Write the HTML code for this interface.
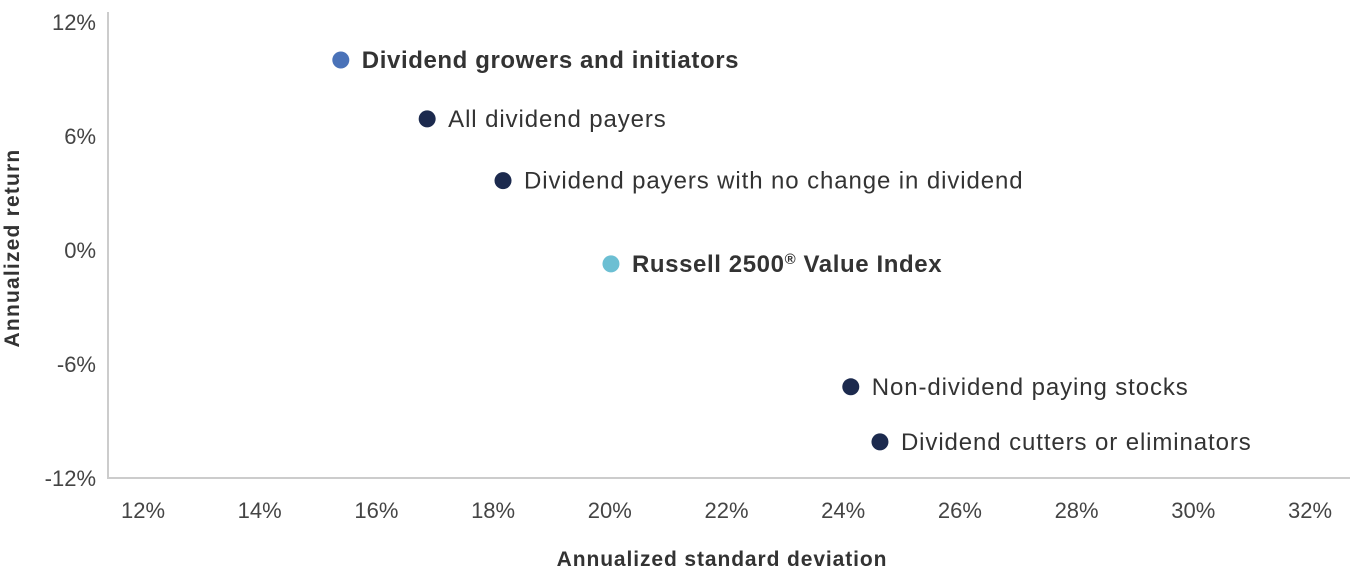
<!DOCTYPE html>
<html><head><meta charset="utf-8"><style>
body{margin:0;background:#fff;font-family:"Liberation Sans",sans-serif;}
svg text{font-family:"Liberation Sans",sans-serif;}
</style></head><body>
<svg id="chart" width="1366" height="570" xmlns="http://www.w3.org/2000/svg">
<line x1="108" y1="12" x2="108" y2="478" stroke="#ccc" stroke-width="2"/>
<line x1="107" y1="478" x2="1350" y2="478" stroke="#ccc" stroke-width="2"/>
<g id="yticks"></g><g id="xticks"></g><g id="points"></g>
<text x="722" y="566" text-anchor="middle" font-size="21" font-weight="bold" letter-spacing="0.9" fill="#333">Annualized standard deviation</text>
<text transform="translate(19,248) rotate(-90)" text-anchor="middle" font-size="21" font-weight="bold" letter-spacing="1.2" fill="#333">Annualized return</text>
</svg>
<script>
const yTicks=[12,6,0,-6,-12];
const xTicks=[12,14,16,18,20,22,24,26,28,30,32];
const labels=["Dividend growers and initiators","All dividend payers","Dividend payers with no change in dividend","Russell 2500® Value Index","Non-dividend paying stocks","Dividend cutters or eliminators"];
const stdDev=[15.39,16.87,18.17,20.02,24.13,24.63];
const returns=[10.0,6.9,3.65,-0.73,-7.2,-10.1];
const colors=["#4a72b8","#1c2a4e","#1c2a4e","#6cbfd3","#1c2a4e","#1c2a4e"];
const bold=[true,false,false,true,false,false];
const ns="http://www.w3.org/2000/svg";
const X=v=>143+(v-12)*58.35;
const Y=v=>250-v*19.0;
function mk(tag,attrs,parent){const e=document.createElementNS(ns,tag);for(const k in attrs)e.setAttribute(k,attrs[k]);parent.appendChild(e);return e;}
const yg=document.getElementById('yticks'),xg=document.getElementById('xticks'),pg=document.getElementById('points');
yTicks.forEach(t=>{const e=mk('text',{x:96,y:Y(t)+8,'text-anchor':'end','font-size':22,fill:'#444'},yg);


e.textContent=t+'%';});
xTicks.forEach(t=>{const e=mk('text',{x:X(t),y:518,'text-anchor':'middle','font-size':22,fill:'#444'},xg);


e.textContent=t+'%';});
labels.forEach((l,i)=>{const cx=X(stdDev[i]),cy=Y(returns[i]);
const c=mk('circle',{cx:cx,cy:cy,r:8.5,fill:colors[i]},pg);


const t=mk('text',{x:cx+21,y:cy+8,'font-size':24,'letter-spacing':bold[i]?0.6:0.9,fill:'#333','font-weight':bold[i]?'bold':'normal'},pg);


if(l.indexOf('®')>=0){const p=l.split('®');
t.appendChild(document.createTextNode(p[0]));
const s=mk('tspan',{'font-size':15,dy:-8},t);s.textContent='®';
const r=mk('tspan',{dy:8},t);r.textContent=p[1];}
else t.textContent=l;});
</script>
</body></html>
